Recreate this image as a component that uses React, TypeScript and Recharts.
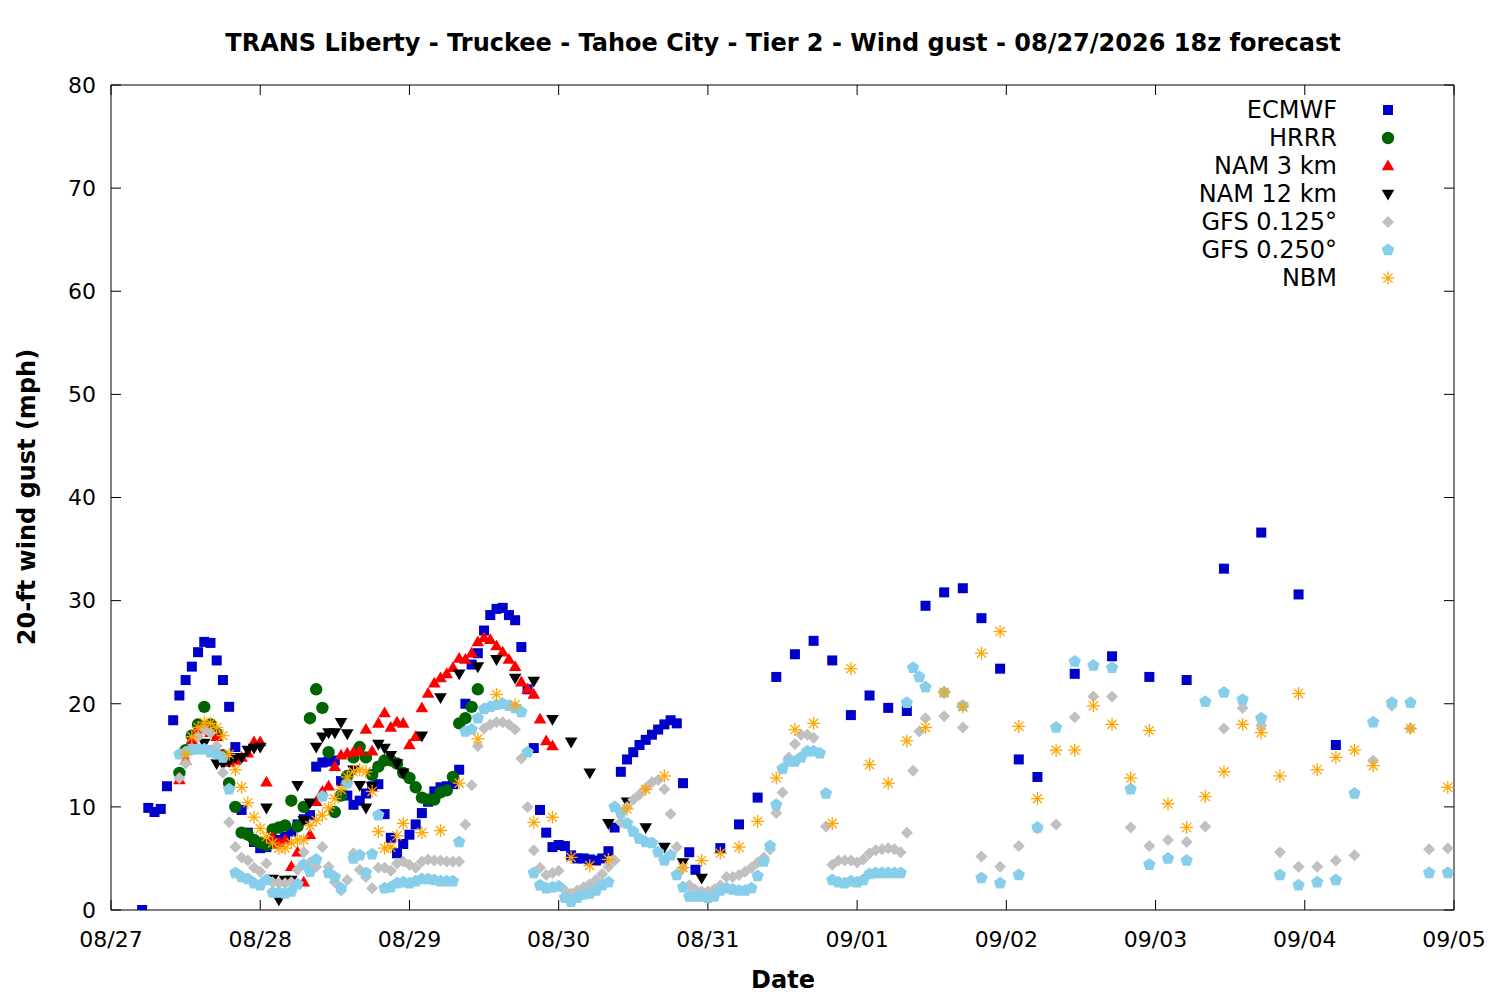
import { Scatter, ScatterChart, XAxis, YAxis } from "recharts"

// forecast hours are counted from 08/27 00z
const span = (from: number, to: number, step: number) => {
  const out: number[] = []
  for (let h = from; h <= to; h += step) out.push(h)
  return out
}

const dayTicks = span(0, 216, 24)
const dayLabels = ["08/27", "08/28", "08/29", "08/30", "08/31", "09/01", "09/02", "09/03", "09/04", "09/05"]
const gustTicks = [0, 10, 20, 30, 40, 50, 60, 70, 80]

const ecmwfHours = [...span(5, 94, 1), ...span(98, 149, 3), ...span(155, 197, 6)]
const ecmwfGust = [
  0, 9.9, 9.5, 9.8, 12.0, 18.4, 20.8, 22.3, 23.6, 25.0, 26.0, 25.9, 24.2, 22.3, 19.7, 15.8, 9.7, 7.5, 6.6, 6.0,
  6.1, 6.4, 6.8, 7.1, 7.6, 8.3, 8.8, 9.2, 13.9, 14.3, 14.4, 14.5, 12.5, 11.1, 10.2, 10.6, 11.3, 12.0, 12.2, 9.3,
  7.0, 5.5, 6.4, 7.3, 8.3, 9.4, 10.5, 11.5, 11.9, 12.0, 12.2, 13.6, 20.0, 23.8, 24.9, 27.1, 28.6, 29.2, 29.3, 28.6,
  28.1, 25.5, 21.4, 15.7, 9.7, 7.5, 6.1, 6.3, 6.2, 5.3, 5.0, 5.0, 4.9, 4.8, 5.0, 5.7, 8.0, 13.4, 14.6, 15.3,
  16.0, 16.5, 17.0, 17.5, 18.0, 18.4, 18.1, 12.3, 5.6, 3.9,
  6.0, 8.3, 10.9, 22.6, 24.8, 26.1, 24.2, 18.9, 20.8, 19.6, 19.3, 29.5, 30.8, 31.2, 28.3, 23.4, 14.6, 12.9,
  22.9, 24.6, 22.6, 22.3, 33.1, 36.6, 30.6, 16.0,
]

const hrrrHours = span(11, 59, 1)
const hrrrGust = [
  13.3, 15.5, 16.9, 18.0, 19.7, 18.0, 17.1, 15.0, 12.3, 10.0, 7.5, 7.3, 6.8, 6.5, 6.3, 7.8, 8.0, 8.2, 10.6, 8.1,
  10.0, 18.6, 21.4, 19.6, 15.3, 9.5, 11.1, 13.0, 14.8, 15.8, 14.8, 13.1, 13.9, 14.5, 14.5, 14.2, 13.3, 12.8, 11.9, 10.9,
  10.7, 10.7, 11.4, 11.6, 12.9, 18.1, 18.6, 19.7, 21.4,
]

const nam3Hours = span(11, 71, 1)
const nam3Gust = [
  12.6, 14.5, 16.5, 17.5, 17.8, 17.2, 16.8, 15.0, 14.3, 14.5, 14.8, 15.2, 16.3, 16.3, 12.4, 7.0, 6.5, 6.8, 4.2, 5.6,
  2.7, 7.3, 10.5, 11.5, 12.0, 13.9, 15.0, 15.2, 15.3, 15.4, 17.5, 15.4, 18.1, 19.1, 17.7, 18.2, 18.1, 16.0, 16.8, 19.6,
  21.0, 22.0, 22.5, 22.9, 23.5, 24.4, 24.3, 24.9, 26.0, 26.4, 26.2, 25.6, 25.0, 24.3, 23.6, 22.1, 21.4, 20.9, 18.5, 16.4,
  15.9,
]

const nam12Hours = [...span(15, 47, 1), ...span(50, 95, 3)]
const nam12Gust = [
  16.2, 15.5, 14.2, 14.2, 14.4, 14.8, 14.8, 15.5, 15.7, 15.8, 9.9, 3.0, 1.0, 2.9, 2.9, 12.1, 8.7, 10.4, 15.8, 16.8,
  17.2, 17.2, 18.2, 17.1, 13.6, 12.1, 9.9, 12.0, 16.1, 15.7, 15.0, 14.2, 13.3,
  16.9, 20.6, 22.9, 23.6, 24.3, 22.5, 22.2, 18.5, 16.3, 13.3, 8.4, 10.5, 8.0, 6.1, 4.6, 3.1,
]

const gfs125Hours = [...span(11, 113, 1), ...span(115, 130, 1), ...span(131, 215, 3)]
const gfs125Gust = [
  12.8, 14.2, 15.5, 16.8, 17.5, 17.2, 15.9, 13.3, 8.5, 6.1, 5.1, 4.8, 4.1, 3.7, 4.5, 2.7, 2.6, 2.6, 2.7, 3.9,
  5.6, 4.6, 4.2, 6.1, 4.2, 2.7, 1.9, 2.9, 5.5, 3.9, 3.2, 2.1, 4.1, 4.1, 3.8, 4.5, 4.7, 4.4, 4.1, 4.7,
  4.9, 4.8, 4.8, 4.7, 4.7, 4.7, 8.3, 12.1, 15.9, 17.6, 18.0, 18.2, 18.2, 18.0, 17.5, 14.7, 10.0, 5.8, 4.1, 3.4,
  3.6, 3.8, 1.9, 1.6, 1.9, 2.2, 2.5, 2.9, 3.5, 4.2, 4.8, 8.5, 10.0, 10.7, 11.2, 11.8, 12.4, 12.6, 11.7, 9.3,
  6.1, 4.1, 2.4, 2.0, 1.8, 1.8, 2.0, 2.4, 3.2, 3.2, 3.4, 3.7, 4.1, 4.6, 5.1, 5.9, 9.4, 11.4, 14.8, 16.1,
  17.0, 17.0, 16.7,
  8.1, 4.4, 4.8, 4.8, 4.8, 4.6, 4.9, 5.5, 5.8, 5.9, 6.0, 5.9, 5.6, 7.5, 13.5, 17.3,
  18.6, 18.8, 17.7, 5.2, 4.2, 6.2, 7.9, 8.3, 18.7, 20.7, 20.7, 8.0, 6.2, 6.8, 6.6, 8.1, 17.6, 19.6, 17.9, 5.6,
  4.2, 4.2, 4.8, 5.3, 14.5, 19.8, 17.6, 5.9, 6.0,
]

const gfs250Hours = [...span(11, 131, 1), ...span(134, 215, 3)]
const gfs250Gust = [
  15.1, 15.3, 15.6, 15.6, 15.6, 15.3, 15.1, 14.8, 11.7, 3.6, 3.2, 3.0, 2.6, 2.4, 2.9, 1.7, 1.7, 1.6, 1.8, 2.5,
  4.4, 3.7, 4.9, 11.0, 3.6, 3.2, 2.1, 12.3, 5.0, 5.3, 3.6, 5.4, 9.2, 2.1, 2.2, 2.6, 2.7, 2.6, 2.8, 3.0,
  3.0, 2.9, 2.8, 2.8, 2.8, 6.6, 17.3, 17.5, 18.6, 19.5, 19.7, 19.9, 20.0, 19.8, 19.6, 19.2, 15.3, 3.6, 2.4, 2.1,
  2.2, 2.3, 1.2, 0.8, 1.2, 1.5, 1.6, 1.9, 2.4, 2.7, 10.0, 9.4, 8.4, 7.6, 6.9, 6.6, 6.5, 5.6, 4.8, 5.3,
  3.4, 2.2, 1.3, 1.3, 1.3, 1.2, 1.3, 1.9, 2.1, 2.0, 1.9, 1.9, 2.1, 3.3, 4.7, 6.2, 10.2, 13.7, 14.4, 14.4,
  14.8, 15.4, 15.4, 15.2, 11.3, 2.9, 2.7, 2.6, 2.8, 2.7, 2.9, 3.5, 3.6, 3.6, 3.6, 3.6, 3.6, 20.1, 23.5, 22.6,
  21.6,
  21.1, 19.8, 3.1, 2.6, 3.4, 8.0, 17.7, 24.1, 23.7, 23.5, 11.7, 4.4, 5.0, 4.8, 20.2, 21.1, 20.4, 18.6, 3.4, 2.4,
  2.7, 2.9, 11.3, 18.2, 20.1, 20.1, 3.6, 3.6,
]

const nbmHours = [...span(12, 47, 1), ...span(50, 203, 3), 209, 215]
const nbmGust = [
  15.1, 16.8, 17.7, 18.2, 18.1, 17.7, 16.9, 15.1, 13.6, 11.9, 10.4, 9.0, 7.9, 7.1, 6.5, 6.0, 6.0, 6.5, 6.8, 6.8,
  8.2, 8.7, 9.2, 9.9, 10.8, 11.7, 12.9, 13.4, 13.6, 13.4, 11.5, 7.6, 6.0, 6.1, 7.2, 8.4,
  7.5, 7.7, 12.3, 16.6, 20.9, 19.9, 8.5, 9.0, 5.1, 4.3, 4.9, 9.8, 11.7, 13.0, 4.1, 4.8, 5.5, 6.1, 8.6, 12.8,
  17.5, 18.1, 8.4, 23.4, 14.1, 12.3, 16.4, 17.7, 21.1, 19.7, 24.9, 27.0, 17.8, 10.8, 15.5, 15.5, 19.8, 18.0, 12.8, 17.4,
  10.3, 8.0, 11.0, 13.4, 18.0, 17.2, 13.0, 21.0, 13.6, 14.8, 15.5, 14.0,
  17.6, 11.9,
]

const toPoints = (hours: number[], gust: number[]) => hours.map((h, i) => ({ h, v: gust[i] }))

type MarkProps = { cx?: number; cy?: number }

const SquareMark = ({ cx = 0, cy = 0 }: MarkProps) => (
  <rect x={cx - 5} y={cy - 5} width={10} height={10} fill="#0000cc" />
)
const CircleMark = ({ cx = 0, cy = 0 }: MarkProps) => <circle cx={cx} cy={cy} r={6.2} fill="#006400" />
const UpMark = ({ cx = 0, cy = 0 }: MarkProps) => (
  <polygon points={`${cx},${cy - 6.5} ${cx + 6.3},${cy + 4.3} ${cx - 6.3},${cy + 4.3}`} fill="#ff0000" />
)
const DownMark = ({ cx = 0, cy = 0 }: MarkProps) => (
  <polygon points={`${cx},${cy + 6.5} ${cx + 6.3},${cy - 4.3} ${cx - 6.3},${cy - 4.3}`} fill="#000000" />
)
const DiamondMark = ({ cx = 0, cy = 0 }: MarkProps) => (
  <polygon points={`${cx},${cy - 6} ${cx + 6},${cy} ${cx},${cy + 6} ${cx - 6},${cy}`} fill="#c0c0c0" />
)
const PentagonMark = ({ cx = 0, cy = 0 }: MarkProps) => {
  const pts = [0, 1, 2, 3, 4]
    .map((k) => {
      const a = -Math.PI / 2 + (k * 2 * Math.PI) / 5
      return `${cx + 6.5 * Math.cos(a)},${cy + 6.5 * Math.sin(a)}`
    })
    .join(" ")
  return <polygon points={pts} fill="#87ceeb" />
}
const StarMark = ({ cx = 0, cy = 0 }: MarkProps) => (
  <g stroke="#ffa500" strokeWidth={1.3}>
    <line x1={cx - 6.5} y1={cy} x2={cx + 6.5} y2={cy} />
    <line x1={cx} y1={cy - 6.5} x2={cx} y2={cy + 6.5} />
    <line x1={cx - 4.6} y1={cy - 4.6} x2={cx + 4.6} y2={cy + 4.6} />
    <line x1={cx - 4.6} y1={cy + 4.6} x2={cx + 4.6} y2={cy - 4.6} />
  </g>
)

const series = [
  { name: "ECMWF", data: toPoints(ecmwfHours, ecmwfGust), Mark: SquareMark },
  { name: "HRRR", data: toPoints(hrrrHours, hrrrGust), Mark: CircleMark },
  { name: "NAM 3 km", data: toPoints(nam3Hours, nam3Gust), Mark: UpMark },
  { name: "NAM 12 km", data: toPoints(nam12Hours, nam12Gust), Mark: DownMark },
  { name: "GFS 0.125°", data: toPoints(gfs125Hours, gfs125Gust), Mark: DiamondMark },
  { name: "GFS 0.250°", data: toPoints(gfs250Hours, gfs250Gust), Mark: PentagonMark },
  { name: "NBM", data: toPoints(nbmHours, nbmGust), Mark: StarMark },
]

const font = "'DejaVu Sans', sans-serif"
const tickStyle = { fill: "#000", fontSize: 22, fontFamily: font }

export default function App() {
  return (
    <div style={{ position: "absolute", left: 0, top: 0, width: 1500, height: 1000, background: "#fff", fontFamily: font }}>
      <div
        style={{
          position: "absolute",
          left: 0,
          width: 1566,
          top: 27,
          textAlign: "center",
          fontSize: 24,
          fontWeight: "bold",
          lineHeight: "32px",
        }}
      >
        TRANS Liberty - Truckee - Tahoe City - Tier 2 - Wind gust - 08/27/2026 18z forecast
      </div>

      <ScatterChart width={1500} height={1000} margin={{ top: 84, right: 45, bottom: 50, left: 51 }}>
        <XAxis
          xAxisId="bottom"
          type="number"
          dataKey="h"
          domain={[0, 216]}
          ticks={dayTicks}
          allowDataOverflow
          tickFormatter={(h: number) => dayLabels[Math.round(h / 24)]}
          height={40}
          tickSize={-10}
          tickMargin={31}
          stroke="#000"
          tick={tickStyle}
        />
        <XAxis
          xAxisId="top"
          orientation="top"
          type="number"
          dataKey="h"
          domain={[0, 216]}
          ticks={dayTicks}
          allowDataOverflow
          tickFormatter={() => ""}
          height={1}
          tickSize={-10}
          stroke="#000"
        />
        <YAxis
          yAxisId="left"
          type="number"
          dataKey="v"
          domain={[0, 80]}
          ticks={gustTicks}
          allowDataOverflow
          width={60}
          tickSize={-10}
          tickMargin={25}
          stroke="#000"
          tick={tickStyle}
        />
        <YAxis
          yAxisId="right"
          orientation="right"
          type="number"
          dataKey="v"
          domain={[0, 80]}
          ticks={gustTicks}
          allowDataOverflow
          tickFormatter={() => ""}
          width={1}
          tickSize={-10}
          stroke="#000"
        />
        {series.map(({ name, data, Mark }) => (
          <Scatter
            key={name}
            name={name}
            data={data}
            xAxisId="bottom"
            yAxisId="left"
            isAnimationActive={false}
            shape={(p: MarkProps) => <Mark cx={p.cx} cy={p.cy} />}
          />
        ))}
      </ScatterChart>

      <div style={{ position: "absolute", left: 0, width: 1566, top: 964, textAlign: "center", fontSize: 24, fontWeight: "bold", lineHeight: "32px" }}>
        Date
      </div>
      <div
        style={{
          position: "absolute",
          left: 27,
          top: 497,
          transform: "translate(-50%, -50%) rotate(-90deg)",
          whiteSpace: "nowrap",
          fontSize: 24,
          fontWeight: "bold",
        }}
      >
        20-ft wind gust (mph)
      </div>

      {series.map(({ name, Mark }, i) => (
        <div key={name} style={{ position: "absolute", left: 1100, top: 96 + i * 28, width: 300, height: 28 }}>
          <div style={{ position: "absolute", right: 63, top: 0, lineHeight: "28px", fontSize: 24, whiteSpace: "nowrap" }}>{name}</div>
          <svg style={{ position: "absolute", left: 276, top: 2 }} width={24} height={24}>
            <Mark cx={12} cy={12} />
          </svg>
        </div>
      ))}
    </div>
  )
}
